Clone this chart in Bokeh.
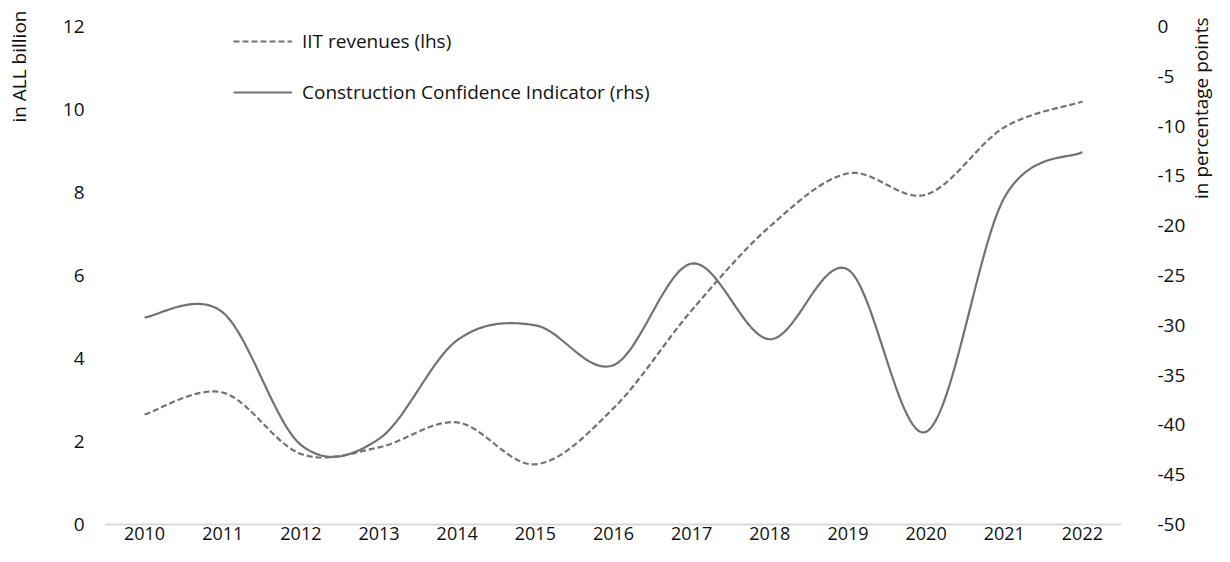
import numpy as np
from bokeh.plotting import figure
from bokeh.models import (Range1d, LinearAxis, FixedTicker, Legend, LegendItem,
                          CustomJSTickFormatter, Label)
from bokeh.embed import file_html
from bokeh.resources import INLINE

# ---- data ----
years = [2010, 2011, 2012, 2013, 2014, 2015, 2016, 2017, 2018, 2019, 2020, 2021, 2022]
iit_revenues = [2.65, 3.18, 1.70, 1.86, 2.46, 1.45, 2.80, 5.16, 7.18, 8.46, 7.95, 9.57, 10.19]
construction_ci = [-29.2, -28.7, -42.0, -41.4, -31.5, -30.0, -34.0, -23.8, -31.4, -24.4, -40.7, -17.2, -12.6]
left_ticks = [0, 2, 4, 6, 8, 10, 12]
right_ticks = [-50, -45, -40, -35, -30, -25, -20, -15, -10, -5, 0]
series_names = ["IIT revenues (lhs)", "Construction Confidence Indicator (rhs)"]
left_title = "in ALL billion"
right_title = "in percentage points"

FONT = "Open Sans"
FS = "19px"
LINE = "#767171"
TXT = "#111111"


def smooth(xs, ys, n=30):
    """Excel-style smoothed line: Catmull-Rom as cubic Bezier segments."""
    P = np.column_stack([np.asarray(xs, float), np.asarray(ys, float)])
    out = []
    m = len(P)
    t = np.linspace(0, 1, n)[:, None]
    for i in range(m - 1):
        p0 = P[i - 1] if i > 0 else P[i]
        p1 = P[i]
        p2 = P[i + 1]
        p3 = P[i + 2] if i + 2 < m else P[i + 1]
        c1 = p1 + (p2 - p0) / 6.0
        c2 = p2 - (p3 - p1) / 6.0
        seg = ((1 - t) ** 3) * p1 + 3 * ((1 - t) ** 2) * t * c1 + 3 * (1 - t) * t ** 2 * c2 + t ** 3 * p2
        if i > 0:
            seg = seg[1:]
        out.append(seg)
    out = np.vstack(out)
    return out[:, 0], out[:, 1]


p = figure(width=1214, height=546, output_backend="svg", toolbar_location=None,
           x_range=Range1d(years[0] - 0.5, years[-1] + 0.5),
           y_range=Range1d(left_ticks[0], left_ticks[-1]),
           min_border_left=105, min_border_right=93, min_border_top=26, min_border_bottom=22)
p.extra_y_ranges = {"rhs": Range1d(right_ticks[0], right_ticks[-1])}

p.outline_line_color = None
p.xgrid.visible = False
p.ygrid.visible = False
p.background_fill_color = "white"
p.border_fill_color = "white"

plain = CustomJSTickFormatter(code="return tick.toString();")


def style_axis(ax, standoff, fs=FS):
    ax.axis_line_color = None
    ax.major_tick_line_color = None
    ax.minor_tick_line_color = None
    ax.major_label_standoff = standoff
    ax.major_label_text_font = FONT
    ax.major_label_text_font_size = fs
    ax.major_label_text_color = TXT


# x axis
xa = p.xaxis[0]
xa.ticker = FixedTicker(ticks=years)
xa.formatter = plain
style_axis(xa, -4, fs="18px")
xa.axis_line_color = "#d9d9d9"
xa.axis_line_width = 2

# left axis
ya = p.yaxis[0]
ya.ticker = FixedTicker(ticks=left_ticks)
ya.formatter = plain
style_axis(ya, 15)

# right axis
ra = LinearAxis(y_range_name="rhs", ticker=FixedTicker(ticks=right_ticks), formatter=plain)
style_axis(ra, 30)
p.add_layout(ra, "right")

# axis titles: top-aligned, reading bottom-to-top, placed in the side panels
for txt, side, sx, sy in ((left_title, "left", -15, 514), (right_title, "right", 12, 507)):
    p.add_layout(Label(x=sx, y=sy, x_units="screen", y_units="screen", text=txt,
                       angle=np.pi / 2, text_align="right", text_baseline="middle",
                       text_font=FONT, text_font_size=FS, text_color=TXT), side)

# lines
sx1, sy1 = smooth(years, iit_revenues)
sx2, sy2 = smooth(years, construction_ci)
r1 = p.line(sx1, sy1, line_color=LINE, line_width=2.2, line_dash="6 3", line_join="round")
r2 = p.line(sx2, sy2, line_color=LINE, line_width=2.2, y_range_name="rhs", line_join="round")

legend = Legend(items=[LegendItem(label=series_names[0], renderers=[r1]),
                       LegendItem(label=series_names[1], renderers=[r2])],
                location=(128, 418), glyph_width=59, glyph_height=28, spacing=23,
                padding=0, margin=0, label_standoff=10,
                border_line_color=None, background_fill_alpha=0,
                label_text_font=FONT, label_text_font_size=FS, label_text_color=TXT)
p.add_layout(legend)

open("out.html", "w").write(file_html(p, INLINE))
